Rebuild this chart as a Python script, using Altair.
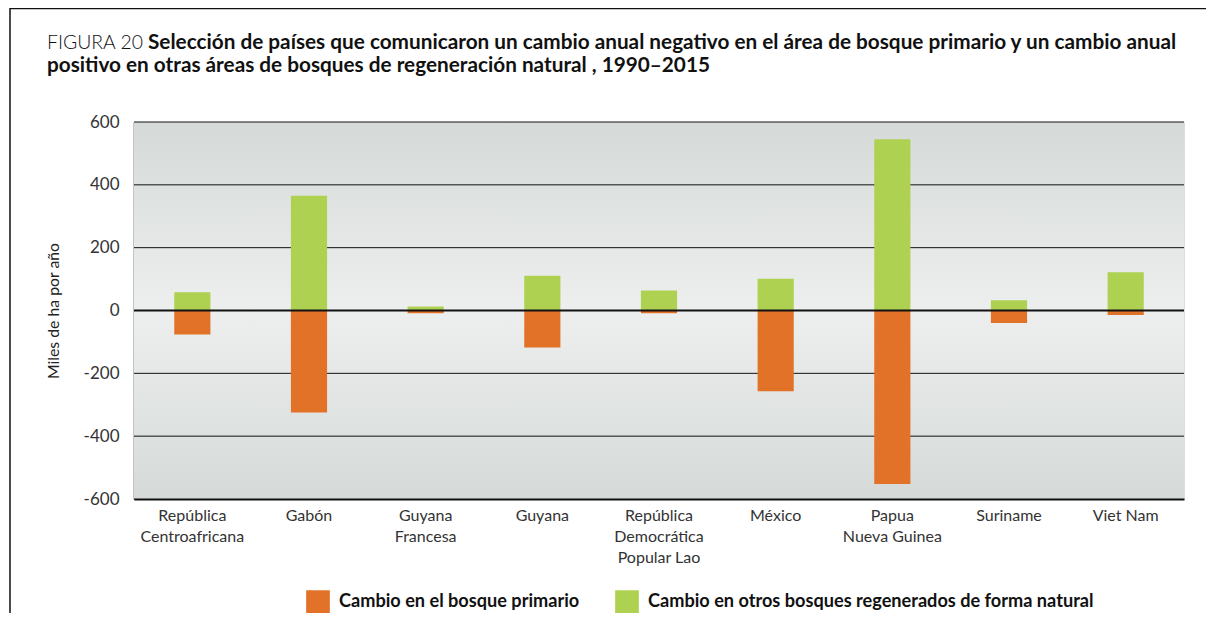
import altair as alt
import pandas as pd

countries = [
    "República|Centroafricana", "Gabón", "Guyana|Francesa", "Guyana",
    "República|Democrática|Popular Lao", "México", "Papua|Nueva Guinea",
    "Suriname", "Viet Nam",
]
primary_change = [-76, -325, -9, -118, -9, -257, -552, -40, -14]
other_change = [58, 365, 13, 111, 64, 101, 545, 33, 122]
series_names = [
    "Cambio en el bosque primario",
    "Cambio en otros bosques regenerados de forma natural",
]
series_colors = ["#E37229", "#AED152"]
y_ticks = [-600, -400, -200, 0, 200, 400, 600]

rows = []
for c, p, o in zip(countries, primary_change, other_change):
    rows.append({"pais": c, "serie": series_names[1], "valor": o})
    rows.append({"pais": c, "serie": series_names[0], "valor": p})
df = pd.DataFrame(rows)

W, H = 1050, 377
FONT = "Lato"

x_enc = alt.X(
    "pais:N", sort=countries, title=None,
    scale=alt.Scale(paddingInner=0.69, paddingOuter=0.345),
    axis=alt.Axis(
        labelExpr="split(datum.label, '|')", labelAngle=0, labelFontSize=16,
        labelColor="#333333", labelFont=FONT, labelPadding=8, ticks=False,
        domain=True, domainColor="#111111", domainWidth=2, labelLineHeight=21,
        labelBaseline="top", labelLimit=300,
    ),
)
y_scale = alt.Scale(domain=[-600, 600], nice=False)

bg = alt.Chart(alt.Data(values=[{}])).mark_rect(
    fill=alt.Gradient(
        gradient="linear", x1=0, x2=0, y1=0, y2=1,
        stops=[
            alt.GradientStop(color="#D5DAD8", offset=0),
            alt.GradientStop(color="#EDEFEE", offset=0.5),
            alt.GradientStop(color="#D5DAD8", offset=1),
        ],
    )
).encode(x=alt.value(0), x2=alt.value(W), y=alt.value(0), y2=alt.value(H))

frame = alt.Chart(alt.Data(values=[{}])).mark_rect(
    fill="transparent", stroke="#111111", strokeWidth=1.5
).encode(x=alt.value(-124), x2=alt.value(W + 60), y=alt.value(-113.5), y2=alt.value(H + 140))

grid = alt.Chart(alt.Data(values=[{"v": v} for v in y_ticks])).mark_rule(
    color="#111111", strokeWidth=1
).encode(y=alt.Y("v:Q", scale=y_scale))

bars = alt.Chart(df).mark_bar().encode(
    x=x_enc,
    y=alt.Y(
        "valor:Q", stack=None, scale=y_scale, title="Miles de ha por año",
        axis=alt.Axis(
            values=y_ticks, labelExpr="'' + datum.value", labelFontSize=17,
            labelColor="#333333", labelFont=FONT, labelPadding=15, ticks=False,
            grid=False, domain=True, domainColor="#111111", domainWidth=1.5,
            titleFont=FONT, titleFontSize=15.8, titleFontWeight="normal",
            titleColor="#222222", titlePadding=22,
        ),
    ),
    color=alt.Color(
        "serie:N", scale=alt.Scale(domain=series_names, range=series_colors),
        legend=alt.Legend(
            title=None, orient="none", legendX=172, legendY=468,
            direction="horizontal", symbolType="square", symbolSize=560,
            symbolStrokeWidth=0, labelFont=FONT, labelFontSize=18.15,
            labelFontWeight="bold", labelColor="#111111", labelOffset=9,
            columnPadding=35, labelLimit=600, padding=0,
        ),
    ),
)

zero = alt.Chart(alt.Data(values=[{"v": 0}])).mark_rule(
    color="#111111", strokeWidth=2
).encode(y=alt.Y("v:Q", scale=y_scale))

t1 = alt.Chart(alt.Data(values=[{}])).mark_text(
    text="FIGURA 20", font=FONT, fontSize=19.4, fontWeight=300, align="left",
    baseline="alphabetic", color="#111111",
).encode(x=alt.value(-87), y=alt.value(-73))
t2 = alt.Chart(alt.Data(values=[{}])).mark_text(
    text="Selección de países que comunicaron un cambio anual negativo en el área de bosque primario y un cambio anual",
    font=FONT, fontSize=20.75, fontWeight="bold", align="left",
    baseline="alphabetic", color="#111111",
).encode(x=alt.value(14), y=alt.value(-73))
t3 = alt.Chart(alt.Data(values=[{}])).mark_text(
    text="positivo en otras áreas de bosques de regeneración natural , 1990–2015",
    font=FONT, fontSize=20.75, fontWeight="bold", align="left",
    baseline="alphabetic", color="#111111",
).encode(x=alt.value(-87), y=alt.value(-50))

chart = alt.layer(bg, grid, bars, zero, frame, t1, t2, t3).properties(
    width=W, height=H,
    autosize=alt.AutoSizeParams(type="none"),
    padding={"left": 126, "top": 114, "right": 22, "bottom": 114},
).configure_view(stroke=None).configure(background="white")

chart.save("out.html", embed_options={"renderer": "svg", "actions": False})
